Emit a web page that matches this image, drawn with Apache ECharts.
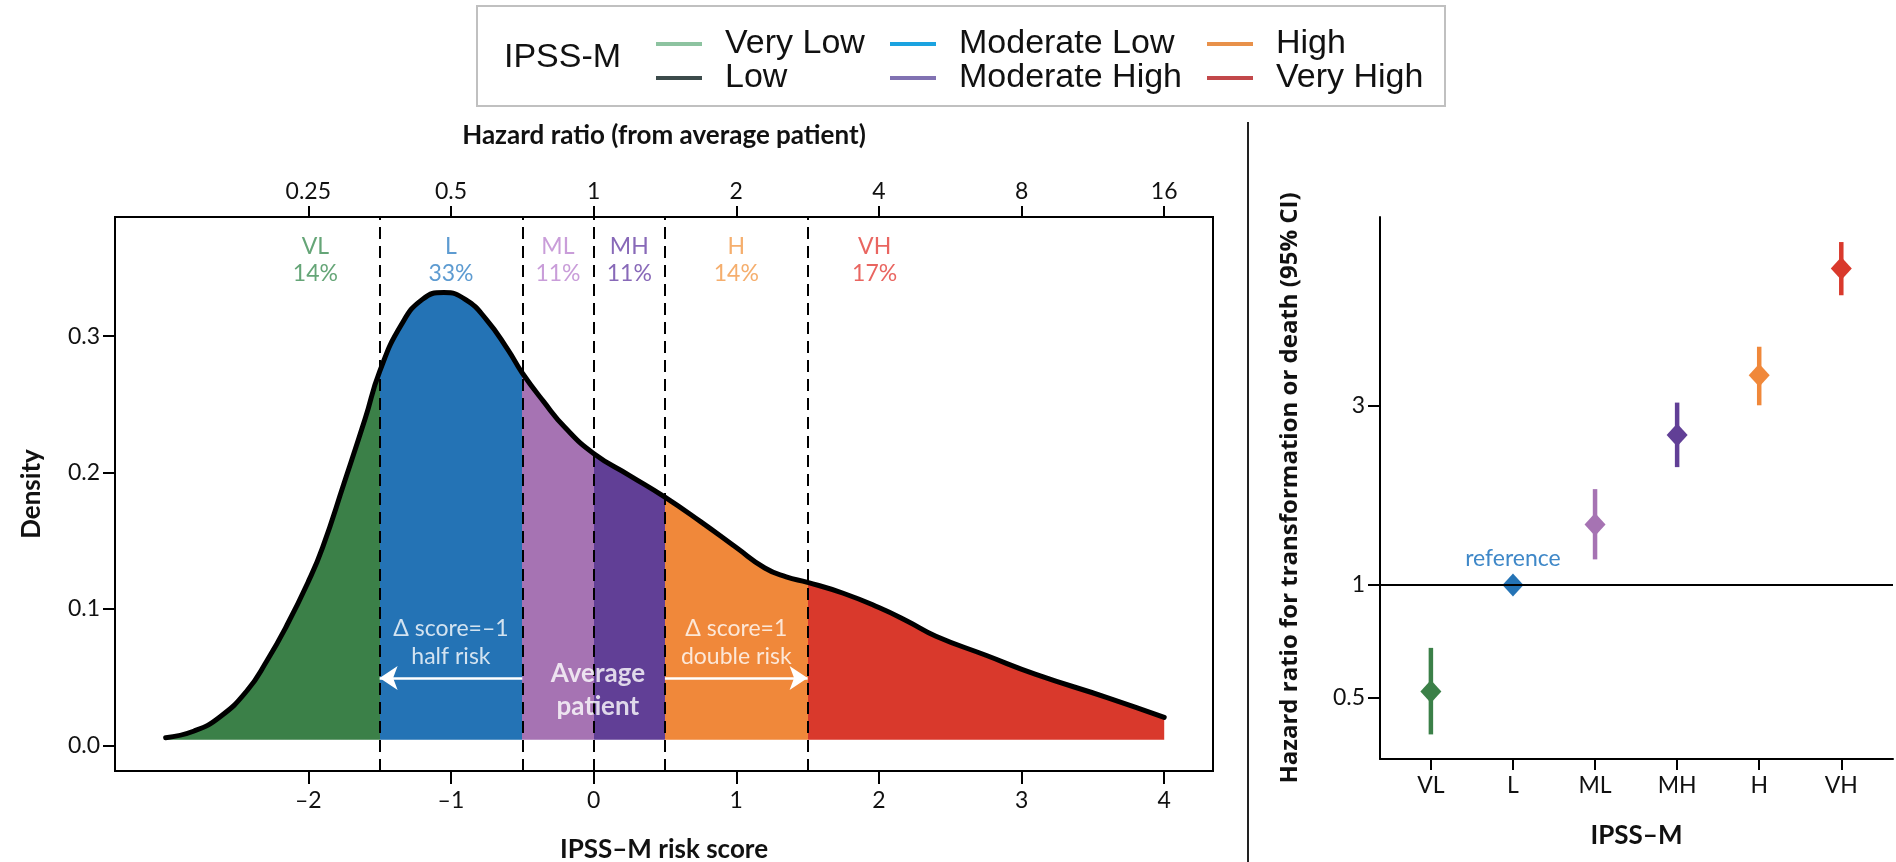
<!DOCTYPE html>
<html>
<head>
<meta charset="utf-8">
<script src="https://cdn.jsdelivr.net/npm/echarts@6/dist/echarts.min.js"></script>
<style>
  html, body { margin: 0; padding: 0; background: #ffffff; }
  #chart { width: 1896px; height: 862px; }
</style>
</head>
<body>
<div id="chart"></div>
<script>
// ---- IPSS-M risk score: density by risk category, and hazard ratios per category ----

// Density curve of the IPSS-M risk score
const riskScore = [-3.00, -2.80, -2.62, -2.43, -2.29, -2.15, -2.00, -1.90, -1.75, -1.60,
                   -1.50, -1.35, -1.20, -1.05, -0.90, -0.75, -0.60, -0.50, -0.35, -0.20,
                   0.00, 0.25, 0.50, 0.75, 1.00, 1.20, 1.35, 1.50, 1.75, 2.00,
                   2.20, 2.40, 2.75, 3.10, 3.60, 4.00];
const density   = [0.0056, 0.0105, 0.0208, 0.0400, 0.0620, 0.0880, 0.1200, 0.1450, 0.1920, 0.2400,
                   0.2740, 0.3080, 0.3270, 0.3320, 0.3270, 0.3120, 0.2900, 0.2730, 0.2520, 0.2330,
                   0.2140, 0.1980, 0.1820, 0.1640, 0.1450, 0.1300, 0.1235, 0.1195, 0.1115, 0.1010,
                   0.0910, 0.0800, 0.0660, 0.0520, 0.0350, 0.0205];
const densityFloor = 0.004;

// Category cut points on the risk score and category shares
const cutPoints   = [-1.5, -0.5, 0, 0.5, 1.5];
const regionCodes = ['VL', 'L', 'ML', 'MH', 'H', 'VH'];
const regionPct   = [14, 33, 11, 11, 14, 17];

// Axis ticks
const scoreTicks        = [-2, -1, 0, 1, 2, 3, 4];
const scoreTickLabels   = ['\u20132', '\u20131', '0', '1', '2', '3', '4'];
const hazardTickLabels  = ['0.25', '0.5', '1', '2', '4', '8', '16'];
const densityTicks      = [0, 0.1, 0.2, 0.3];
const densityTickLabels = ['0.0', '0.1', '0.2', '0.3'];

// Hazard ratio for transformation or death (95% CI), Low = reference
const categories  = ['VL', 'L', 'ML', 'MH', 'H', 'VH'];
const hazardRatio = [0.52, 1.00, 1.45, 2.51, 3.62, 6.96];
const ciLower     = [0.40, null, 1.17, 2.06, 3.01, 5.91];
const ciUpper     = [0.68, null, 1.80, 3.06, 4.31, 8.19];
const hrTicks     = [0.5, 1, 3];
const hrTickLabels = ['0.5', '1', '3'];

// Legend entries
const legendTitle = 'IPSS-M';
const legendNames = ['Very Low', 'Low', 'Moderate Low', 'Moderate High', 'High', 'Very High'];

// ---- styling / layout ----
const fillColors   = ['#3b8048', '#2473b5', '#a673b3', '#613f96', '#f0883a', '#d9392c'];
const labelColors  = ['#3f8f55', '#3582c6', '#bb85d0', '#6a44a6', '#f39a48', '#e43f38'];
const legendColors = ['#8dc3a0', '#3c4b4b', '#1ba3e0', '#8172b2', '#e8914a', '#c2484a'];

const FONT = 'Lato, "DejaVu Sans", sans-serif';
const regionLabelX = [-1.95, -1.0, -0.25, 0.25, 1.0, 1.97];
const regionLabelY = 0.3558;
const arrowY = 0.0494;

const pickLabel = (ticks, labels) => v => {
  for (let i = 0; i < ticks.length; i++) if (Math.abs(ticks[i] - v) < 1e-6) return labels[i];
  return '';
};

// visual pieces colouring the area under the curve by category
const bounds = [-3.5].concat(cutPoints, [4.5]);
const pieces = fillColors.map((c, i) => ({ gte: bounds[i], lt: bounds[i + 1], color: c }));

const tickStyle = { show: true, inside: false, length: 12, lineStyle: { color: '#000', width: 2 } };
const tickFont = { fontFamily: FONT, fontSize: 23, color: '#111' };
const titleFont = { fontFamily: FONT, fontSize: 26, fontWeight: 'bold', color: '#111' };

const lnHrTicks = hrTicks.map(Math.log);
const catTicks = categories.map((c, i) => i + 1);

const option = {
  animation: false,
  backgroundColor: '#ffffff',
  graphic: [
    { type: 'rect', shape: { x: 477, y: 6, width: 968, height: 100 },
      style: { fill: 'none', stroke: '#c0c0c0', lineWidth: 2 }, silent: true },
    { type: 'text', x: 504, y: 58,
      style: { text: legendTitle, font: '34px "Liberation Sans", Arial, sans-serif', fill: '#111', verticalAlign: 'middle' } },
    { type: 'line', shape: { x1: 1248, y1: 122, x2: 1248, y2: 862 },
      style: { stroke: '#222', lineWidth: 2 }, silent: true }
  ],
  legend: [0, 1, 2].map(k => ({
    orient: 'vertical',
    left: [656, 890, 1207][k],
    top: 27,
    padding: 0,
    itemGap: 0,
    itemWidth: 46,
    itemHeight: 4,
    icon: 'rect',
    selectedMode: false,
    data: legendNames.slice(2 * k, 2 * k + 2).map((n, j) => ({ name: n, itemStyle: { color: legendColors[2 * k + j] } })),
    textStyle: { fontFamily: '"Liberation Sans", Arial, sans-serif', fontSize: 34, color: '#111',
                 lineHeight: 29, padding: [0, 0, 0, 18] }
  })),
  visualMap: {
    type: 'piecewise', show: false, dimension: 0, seriesIndex: 0, pieces: pieces
  },
  grid: [
    { left: 115, top: 217, width: 1098, height: 554, outerBoundsMode: 'none', containLabel: false,
      show: true, borderColor: '#000', borderWidth: 2, backgroundColor: 'transparent' },
    { left: 1380, top: 217, right: 3, bottom: 103, outerBoundsMode: 'none', containLabel: false }
  ],
  xAxis: [
    { gridIndex: 0, type: 'value', position: 'bottom', min: -3.355, max: 4.342,
      axisLine: { show: false, onZero: false }, splitLine: { show: false },
      axisTick: Object.assign({ customValues: scoreTicks }, tickStyle, { length: 13 }),
      axisLabel: Object.assign({ customValues: scoreTicks, formatter: pickLabel(scoreTicks, scoreTickLabels), margin: 18 }, tickFont),
      name: 'IPSS\u2013M risk score', nameLocation: 'middle', nameGap: 66, nameTextStyle: titleFont },
    { gridIndex: 0, type: 'value', position: 'top', min: -3.355, max: 4.342,
      axisLine: { show: false, onZero: false }, splitLine: { show: false },
      axisTick: Object.assign({ customValues: scoreTicks }, tickStyle, { length: 11 }),
      axisLabel: Object.assign({ customValues: scoreTicks, formatter: pickLabel(scoreTicks, hazardTickLabels), margin: 14 }, tickFont),
      name: 'Hazard ratio (from average patient)', nameLocation: 'middle', nameGap: 68, nameTextStyle: titleFont },
    { gridIndex: 1, type: 'value', min: 0.38, max: 6.63,
      axisLine: { show: true, onZero: false, lineStyle: { color: '#000', width: 2 } }, splitLine: { show: false },
      axisTick: Object.assign({ customValues: catTicks }, tickStyle, { length: 11 }),
      axisLabel: Object.assign({ customValues: catTicks, formatter: pickLabel(catTicks, categories), margin: 15 }, tickFont),
      name: 'IPSS\u2013M', nameLocation: 'middle', nameGap: 64, nameTextStyle: titleFont }
  ],
  yAxis: [
    { gridIndex: 0, type: 'value', min: -0.01886, max: 0.3874,
      axisLine: { show: false, onZero: false }, splitLine: { show: false },
      axisTick: Object.assign({ customValues: densityTicks }, tickStyle),
      axisLabel: Object.assign({ customValues: densityTicks, formatter: pickLabel(densityTicks, densityTickLabels), margin: 15 }, tickFont),
      name: 'Density', nameLocation: 'middle', nameRotate: 90, nameGap: 70, nameTextStyle: titleFont },
    { gridIndex: 1, type: 'value', min: Math.log(0.344), max: Math.log(9.55),
      axisLine: { show: true, onZero: false, lineStyle: { color: '#000', width: 2 } }, splitLine: { show: false },
      axisTick: Object.assign({ customValues: lnHrTicks }, tickStyle),
      axisLabel: Object.assign({ customValues: lnHrTicks, formatter: pickLabel(lnHrTicks, hrTickLabels), margin: 15 }, tickFont),
      name: 'Hazard ratio for transformation or death (95% CI)', nameLocation: 'middle', nameRotate: 90, nameGap: 78,
      nameTextStyle: { fontFamily: '"Open Sans", sans-serif', fontSize: 24, fontWeight: 'bold', color: '#111' } }
  ],
  series: [
    // density curve, area coloured by category
    { type: 'line', xAxisIndex: 0, yAxisIndex: 0, z: 2,
      data: riskScore.map((s, i) => [s, density[i]]),
      smooth: 0.5, symbol: 'none',
      lineStyle: { color: '#000', width: 5, cap: 'round' },
      areaStyle: { opacity: 1, origin: densityFloor },
      markLine: {
        silent: true, symbol: 'none', label: { show: false },
        lineStyle: { color: '#000', type: [12, 7], width: 2 },
        data: cutPoints.map(c => ({ xAxis: c }))
      } },
    // category names and shares
    { type: 'scatter', xAxisIndex: 0, yAxisIndex: 0, z: 5, symbolSize: 0, silent: true,
      data: regionCodes.map((code, i) => ({
        value: [regionLabelX[i], regionLabelY],
        label: { show: true, position: 'inside', formatter: code + '\n' + regionPct[i] + '%',
                 color: labelColors[i], fontFamily: FONT, fontSize: 23, lineHeight: 27 }
      })) },
    // annotations inside the area
    { type: 'scatter', xAxisIndex: 0, yAxisIndex: 0, z: 6, symbolSize: 0, silent: true,
      label: { show: true, position: 'inside', color: '#fff', fontFamily: FONT, fontSize: 23, lineHeight: 28 },
      data: [
        { value: [-1.0, 0.0752], label: { formatter: '\u0394 score=\u20131\nhalf risk' } },
        { value: [1.0, 0.0752], label: { formatter: '\u0394 score=1\ndouble risk' } },
        { value: [0.03, 0.0404], label: { formatter: 'Average\npatient', fontWeight: 'bold', fontSize: 26, lineHeight: 33 } }
      ],
      markLine: {
        silent: true, symbol: ['none', 'arrow'], symbolSize: 18, label: { show: false },
        lineStyle: { color: '#fff', type: 'solid', width: 2.5 },
        data: [
          [{ coord: [cutPoints[1], arrowY] }, { coord: [cutPoints[0], arrowY] }],
          [{ coord: [cutPoints[3], arrowY] }, { coord: [cutPoints[4], arrowY] }]
        ]
      } },
    // 95% CI bars
    { type: 'custom', xAxisIndex: 2, yAxisIndex: 1, z: 3,
      data: categories.map((c, i) => ciLower[i] == null ? null : {
        value: [i + 1, Math.log(ciLower[i]), Math.log(ciUpper[i])], itemStyle: { color: fillColors[i] } }).filter(d => d),
      renderItem: (params, api) => {
        const p1 = api.coord([api.value(0), api.value(1)]);
        const p2 = api.coord([api.value(0), api.value(2)]);
        return { type: 'line', shape: { x1: p1[0], y1: p1[1], x2: p2[0], y2: p2[1] },
                 style: { stroke: api.visual('color'), lineWidth: 4.5 } };
      },
      markLine: {
        silent: true, symbol: 'none', label: { show: false },
        lineStyle: { color: '#000', type: 'solid', width: 2 },
        data: [{ yAxis: 0 }]
      } },
    // hazard ratio estimates
    { type: 'scatter', xAxisIndex: 2, yAxisIndex: 1, z: 4, symbol: 'diamond', symbolSize: [21, 23],
      data: hazardRatio.map((hr, i) => ({
        value: [i + 1, Math.log(hr)], itemStyle: { color: fillColors[i], opacity: 1 },
        label: categories[i] === 'L' ? { show: true, position: 'top', distance: 3, formatter: 'reference',
                 color: '#3f88c8', fontFamily: FONT, fontSize: 23 } : { show: false }
      })) }
  ].concat(legendNames.map((n, i) => ({
    type: 'line', name: n, xAxisIndex: 2, yAxisIndex: 1, data: [], color: legendColors[i]
  })))
};

const chart = echarts.init(document.getElementById('chart'), null, { renderer: 'canvas' });
chart.setOption(option);
</script>
</body>
</html>
